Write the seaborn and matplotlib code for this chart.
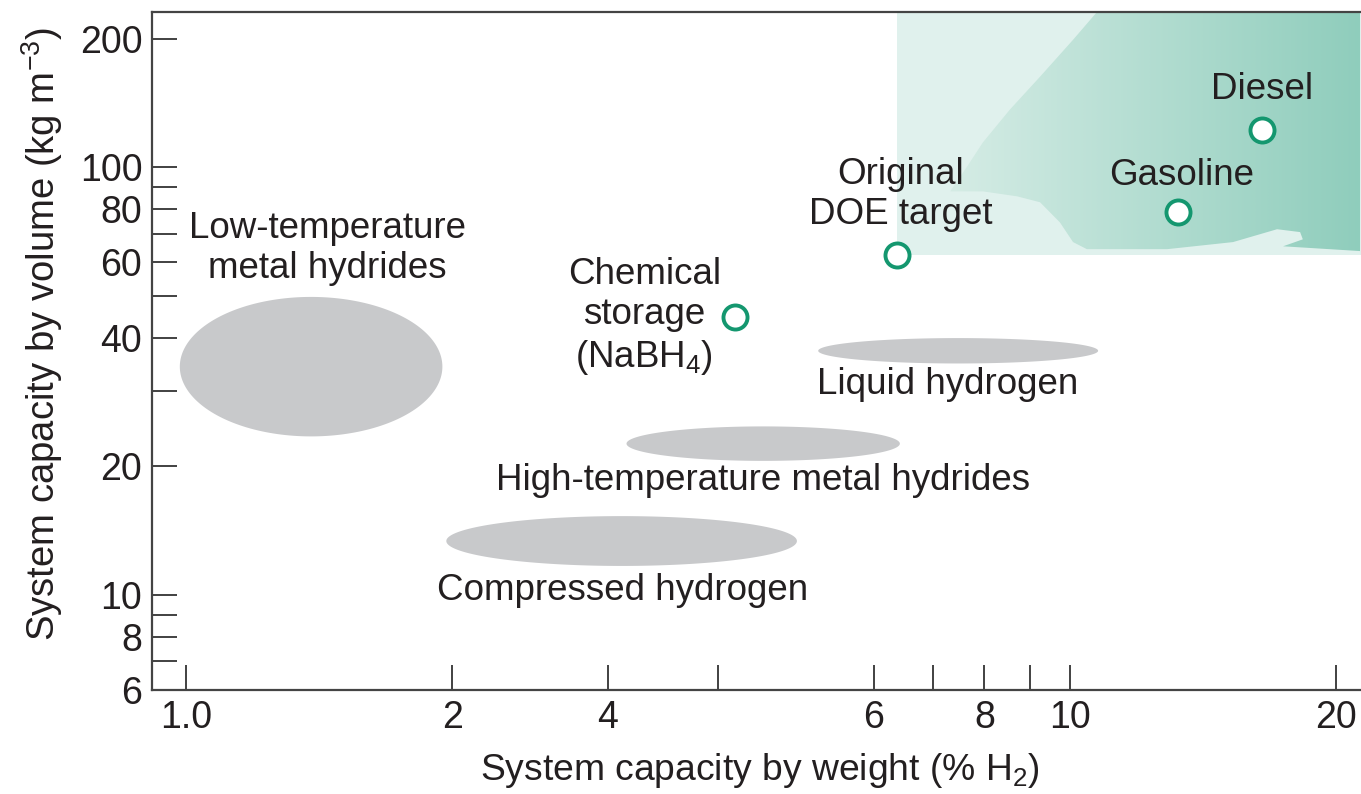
import numpy as np
import pandas as pd
import matplotlib
matplotlib.use('Agg')
import matplotlib.pyplot as plt
import seaborn as sns
from matplotlib.ticker import FixedLocator, FixedFormatter, NullFormatter
from matplotlib.colors import to_rgb
from matplotlib.patches import Polygon

# storage options / fuels shown as open circles (% H2 by weight, kg m-3)
point_names = ['Chemical storage', 'Original DOE target', 'Gasoline', 'Diesel']
point_weight = [4.18, 6.37, 13.25, 16.5]
point_volume = [44.7, 62.4, 78.5, 122.6]

# grey regions for each storage technology (extent of the ellipse)
region_names = ['Low-temperature metal hydrides', 'Liquid hydrogen',
                'High-temperature metal hydrides', 'Compressed hydrogen']
region_weight_lo = [0.984, 5.19, 3.15, 1.97]
region_weight_hi = [1.95, 10.76, 6.42, 4.91]
region_volume_lo = [23.5, 34.8, 20.6, 11.7]
region_volume_hi = [49.8, 39.9, 24.8, 15.3]

# text labels
label_texts = ['Low-temperature\nmetal hydrides',
               'Chemical\nstorage\n(NaBH$_{\\mathregular{4}}$)',
               'Original\nDOE target', 'Gasoline', 'Diesel',
               'Liquid hydrogen', 'High-temperature metal hydrides',
               'Compressed hydrogen']
label_weight = [1.444, 3.30, 6.43, 13.39, 16.5, 7.28, 4.50, 3.12]
label_volume = [64.7, 44.7, 86.5, 95.8, 152, 31.0, 18.5, 10.27]

# darker body of the hydrocarbon-fuel zone (outline)
zone_weight = [10.73, 21.4, 21.4, 17.42, 18.34, 18.21, 17.15, 15.29, 12.88,
               10.45, 10.08, 9.74, 9.25, 8.71, 7.97, 7.32, 7.65, 7.97, 8.55,
               9.25, 10.08]
zone_volume = [231, 231, 63.7, 65.4, 67.9, 70.6, 71.7, 66.9, 64.4,
               64.4, 66.9, 74.4, 82.9, 85.6, 87.9, 87.9, 100.5, 114.4, 136.5,
               163, 198.8]

x_ticks = [1, 2, 3, 6, 8, 10, 20]
x_tick_labels = ['1.0', '2', '4', '6', '8', '10', '20']
x_minor = [4, 7, 9]
y_ticks = [6, 8, 10, 20, 40, 60, 80, 100, 200]
y_tick_labels = ['6', '8', '10', '20', '40', '60', '80', '100', '200']
y_minor = [7, 9, 30, 50, 70, 90]

XLIM = (0.9153, 21.34)
YLIM = (6.0, 231)

GREEN = '#14976f'
GREY = '#c8c9cb'
INK = '#231f20'
ZONE_LIGHT = '#e0f1ed'
ZONE_LEFT = '#d5ece5'
ZONE_RIGHT = '#8fcdbc'

sns.set_theme(style='ticks')
plt.rcParams['font.family'] = ['Liberation Sans', 'DejaVu Sans']

fig = plt.figure(figsize=(13.61, 7.94), dpi=100)
ax = fig.add_axes([0.1117, 0.131, 0.8883, 0.854])
ax.set_xscale('log')
ax.set_yscale('log')
ax.set_xlim(*XLIM)
ax.set_ylim(*YLIM)

# hydrocarbon zone: light rectangle starting at the DOE target
doe_x, doe_y = point_weight[1], point_volume[1]
ax.fill_between([doe_x, XLIM[1]], doe_y, YLIM[1], color=ZONE_LIGHT, lw=0, zorder=0)

# gradient body clipped to its outline
x0 = min(zone_weight)
xs = np.linspace(x0, XLIM[1], 600)
frac = (np.log10(xs) - np.log10(x0)) / (np.log10(XLIM[1]) - np.log10(x0))
c0, c1 = np.array(to_rgb(ZONE_LEFT)), np.array(to_rgb(ZONE_RIGHT))
grad = (c0[None, :] * (1 - frac[:, None]) + c1[None, :] * frac[:, None])[None, :, :]
img = ax.imshow(grad, extent=[x0, XLIM[1], doe_y, YLIM[1]], aspect='auto',
                origin='lower', interpolation='bilinear', zorder=0.5)
outline = Polygon(np.column_stack([zone_weight, zone_volume]), closed=True,
                  transform=ax.transData)
img.set_clip_path(outline)
ax.set_xlim(*XLIM)
ax.set_ylim(*YLIM)

# grey ellipses, drawn as ellipses in log space
t = np.linspace(0, 2 * np.pi, 200)
for xl, xh, yl, yh in zip(region_weight_lo, region_weight_hi,
                          region_volume_lo, region_volume_hi):
    cx, rx = (np.log10(xl) + np.log10(xh)) / 2, (np.log10(xh) - np.log10(xl)) / 2
    cy, ry = (np.log10(yl) + np.log10(yh)) / 2, (np.log10(yh) - np.log10(yl)) / 2
    ax.fill(10 ** (cx + rx * np.cos(t)), 10 ** (cy + ry * np.sin(t)),
            color=GREY, lw=0, zorder=1)

pts = pd.DataFrame({'name': point_names, 'weight': point_weight, 'volume': point_volume})
sns.scatterplot(data=pts, x='weight', y='volume', ax=ax, s=300,
                facecolor='white', edgecolor=GREEN, linewidth=2.8, zorder=5,
                legend=False)

for txt, lx, ly in zip(label_texts, label_weight, label_volume):
    ax.text(lx, ly, txt, ha='center', va='center', fontsize=26.5, color=INK,
            linespacing=1.2, zorder=6)

ax.xaxis.set_major_locator(FixedLocator(x_ticks))
ax.xaxis.set_major_formatter(FixedFormatter(x_tick_labels))
ax.xaxis.set_minor_locator(FixedLocator(x_minor))
ax.xaxis.set_minor_formatter(NullFormatter())
ax.yaxis.set_major_locator(FixedLocator(y_ticks))
ax.yaxis.set_major_formatter(FixedFormatter(y_tick_labels))
ax.yaxis.set_minor_locator(FixedLocator(y_minor))
ax.yaxis.set_minor_formatter(NullFormatter())

ax.tick_params(which='both', direction='in', length=18, width=1.3,
               color='#333333', labelsize=27, labelcolor=INK)
ax.tick_params(axis='y', which='both', pad=7)
ax.tick_params(axis='x', which='both', pad=7)

for side in ['left', 'bottom', 'top']:
    ax.spines[side].set_color('#444444')
    ax.spines[side].set_linewidth(1.6)
ax.spines['right'].set_visible(False)

ax.set_xlabel('System capacity by weight (% H$_{\\mathregular{2}}$)', fontsize=26.8, color=INK)
ax.set_ylabel('System capacity by volume (kg m$^{\\mathregular{-3}}$)', fontsize=27.5, color=INK)
ax.xaxis.set_label_coords(0.503, -0.09)
ax.yaxis.set_label_coords(-0.072, 0.525)

fig.savefig('out.png', dpi=100)
